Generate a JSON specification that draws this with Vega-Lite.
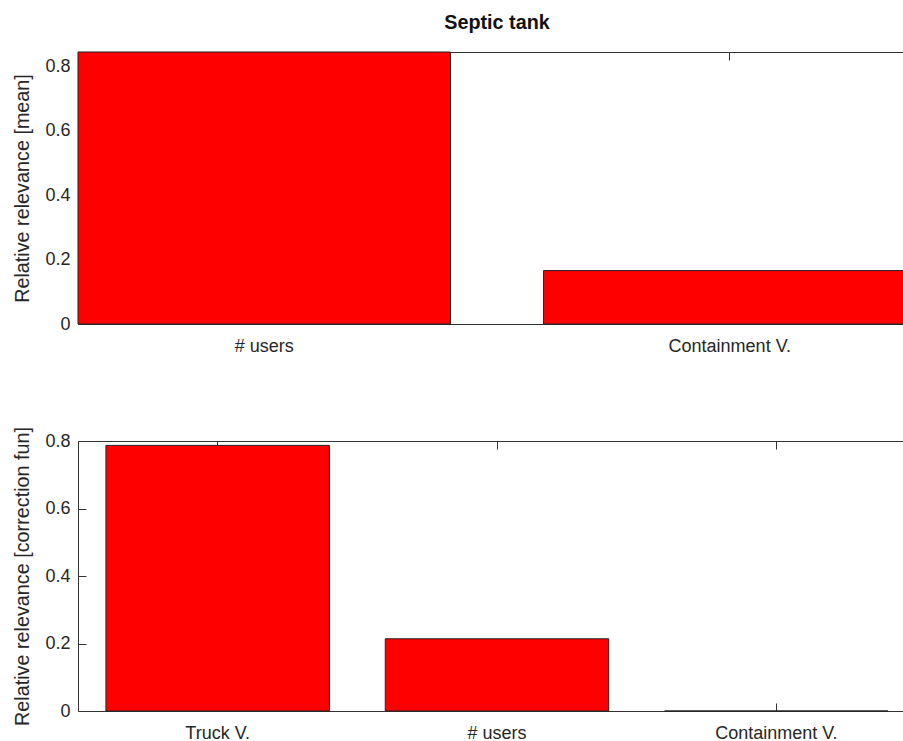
{
  "$schema": "https://vega.github.io/schema/vega-lite/v6.json",
  "padding": {"left": 12, "top": 12, "right": 0, "bottom": 0},
  "background": "white",
  "config": {
    "font": "Liberation Sans",
    "view": {"stroke": "#333333", "strokeWidth": 1},
    "axis": {
      "domain": false,
      "grid": false,
      "tickColor": "#333333",
      "tickSize": -8,
      "labelColor": "#262626",
      "labelFontSize": 18,
      "titleColor": "#262626",
      "titleFontSize": 19.8,
      "titleFontWeight": "normal"
    },
    "bar": {"fill": "#ff0000", "stroke": "#222222", "strokeWidth": 1}
  },
  "datasets": {
    "mean": [
      {"variable": "# users", "relevance": 0.845},
      {"variable": "Containment V.", "relevance": 0.166}
    ],
    "corr": [
      {"variable": "Truck V.", "relevance": 0.787},
      {"variable": "# users", "relevance": 0.214},
      {"variable": "Containment V.", "relevance": 0.0}
    ]
  },
  "spacing": 69,
  "vconcat": [
    {
      "title": {"text": "Septic tank", "anchor": "middle", "fontSize": 19.8, "fontWeight": "bold", "color": "#111111", "offset": 19},
      "width": 838,
      "height": 272,
      "data": {"name": "mean"},
      "layer": [
        {
          "mark": "bar",
          "encoding": {
            "x": {
              "field": "variable", "type": "nominal", "sort": null,
              "scale": {"paddingInner": 0.2, "paddingOuter": 0},
              "axis": {"title": null, "labelAngle": 0, "labelPadding": 21, "orient": "bottom"}
            },
            "y": {
              "field": "relevance", "type": "quantitative",
              "scale": {"domain": [0, 0.845], "nice": false},
              "axis": {"title": "Relative relevance [mean]", "values": [0, 0.2, 0.4, 0.6, 0.8], "format": "~g", "labelPadding": 16, "titlePadding": 12}
            }
          }
        },
        {
          "mark": {"type": "bar", "opacity": 0},
          "encoding": {
            "x": {
              "field": "variable", "type": "nominal", "sort": null,
              "axis": {"title": null, "labels": false, "orient": "top"}
            },
            "y": {"field": "relevance", "type": "quantitative"}
          }
        }
      ]
    },
    {
      "width": 838,
      "height": 270,
      "data": {"name": "corr"},
      "layer": [
        {
          "mark": "bar",
          "encoding": {
            "x": {
              "field": "variable", "type": "nominal", "sort": null,
              "scale": {"paddingInner": 0.2, "paddingOuter": 0.1},
              "axis": {"title": null, "labelAngle": 0, "labelPadding": 21, "orient": "bottom"}
            },
            "y": {
              "field": "relevance", "type": "quantitative",
              "scale": {"domain": [0, 0.8], "nice": false},
              "axis": {"title": "Relative relevance [correction fun]", "values": [0, 0.2, 0.4, 0.6, 0.8], "format": "~g", "labelPadding": 16, "titlePadding": 12}
            }
          }
        },
        {
          "mark": {"type": "bar", "opacity": 0},
          "encoding": {
            "x": {
              "field": "variable", "type": "nominal", "sort": null,
              "axis": {"title": null, "labels": false, "orient": "top"}
            },
            "y": {"field": "relevance", "type": "quantitative"}
          }
        }
      ]
    }
  ]
}
